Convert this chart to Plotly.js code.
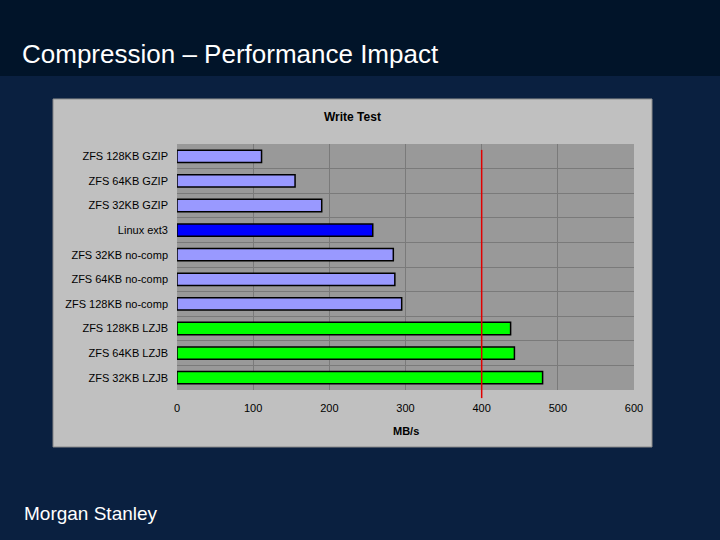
<!DOCTYPE html>
<html>
<head>
<meta charset="utf-8">
<script src="https://cdn.plot.ly/plotly-3.0.1.min.js"></script>
<style>html,body{margin:0;padding:0;background:#0a2040;}#chart{width:720px;height:540px;}</style>
</head>
<body>
<div id="chart"></div>
<script>
// Data
var categories = ["ZFS 128KB GZIP","ZFS 64KB GZIP","ZFS 32KB GZIP","Linux ext3","ZFS 32KB no-comp","ZFS 64KB no-comp","ZFS 128KB no-comp","ZFS 128KB LZJB","ZFS 64KB LZJB","ZFS 32KB LZJB"];
var writeMBs = [111, 155, 190, 257, 284, 286, 295, 438, 443, 480];
var groups = ["gzip","gzip","gzip","ext3","nocomp","nocomp","nocomp","lzjb","lzjb","lzjb"];
var xTicks = [0, 100, 200, 300, 400, 500, 600];
var referenceLine = 400;

var groupColors = {gzip:"#9999ff", ext3:"#0000ff", nocomp:"#9999ff", lzjb:"#00ff00"};
var font = "Liberation Sans, Arial, sans-serif";

var trace = {
  type: "bar",
  orientation: "h",
  y: categories,
  x: writeMBs,
  width: 0.5,
  marker: {color: groups.map(function(g){return groupColors[g];}), line: {color: "#000000", width: 1.5}},
  hoverinfo: "x+y"
};

var layout = {
  width: 720, height: 540,
  margin: {l: 177, r: 86, t: 144, b: 150},
  paper_bgcolor: "#0a2040",
  plot_bgcolor: "rgba(0,0,0,0)",
  showlegend: false,
  font: {family: font, color: "#000000", size: 11},
  xaxis: {
    range: [0, 600], tickvals: xTicks, ticktext: xTicks.map(String),
    showgrid: true, gridcolor: "#7a7a7a", gridwidth: 1,
    zeroline: false, showline: false, ticks: "",
    ticklabelstandoff: 10,
    tickfont: {family: font, size: 11, color: "#000000"},
    fixedrange: true
  },
  yaxis: {
    type: "category", autorange: "reversed",
    tickson: "boundaries", showgrid: true, gridcolor: "#7a7a7a", gridwidth: 1,
    zeroline: false, showline: false, ticks: "",
    ticklabelstandoff: 8,
    tickfont: {family: font, size: 11, color: "#000000"},
    fixedrange: true
  },
  shapes: [
    {type: "rect", xref: "paper", yref: "paper", x0: -0.40, x1: 1.20, y0: 1.2764, y1: 1.60, fillcolor: "#011429", line: {width: 0}, layer: "below"},
    {type: "rect", xref: "paper", yref: "paper", x0: -0.2713, x1: 1.0394, y0: -0.2317, y1: 1.183, fillcolor: "#c0c0c0", line: {color: "#8a8a8a", width: 1}, layer: "below"},
    {type: "rect", xref: "paper", yref: "paper", x0: 0, x1: 1, y0: 0, y1: 1, fillcolor: "#999999", line: {width: 0}, layer: "below"},
    {type: "line", xref: "x", yref: "paper", x0: referenceLine, x1: referenceLine, y0: -0.033, y1: 0.976, line: {color: "#e00000", width: 1.5}}
  ],
  annotations: [
    {text: "Compression \u2013 Performance Impact", xref: "paper", yref: "paper", x: -0.344, y: 1.366, xanchor: "left", yanchor: "middle", showarrow: false, font: {family: font, size: 26, color: "#ffffff"}},
    {text: "<b>Write Test</b>", xref: "paper", yref: "paper", x: 0.385, y: 1.11, xanchor: "center", yanchor: "middle", showarrow: false, font: {family: font, size: 12, color: "#000000"}},
    {text: "<b>MB/s</b>", xref: "paper", yref: "paper", x: 0.5, y: -0.1667, xanchor: "center", yanchor: "middle", showarrow: false, font: {family: font, size: 11, color: "#000000"}},
    {text: "Morgan Stanley", xref: "paper", yref: "paper", x: -0.34, y: -0.502, xanchor: "left", yanchor: "middle", showarrow: false, font: {family: font, size: 19, color: "#ffffff"}}
  ]
};

Plotly.newPlot("chart", [trace], layout, {displayModeBar: false, staticPlot: true});
</script>
</body>
</html>
